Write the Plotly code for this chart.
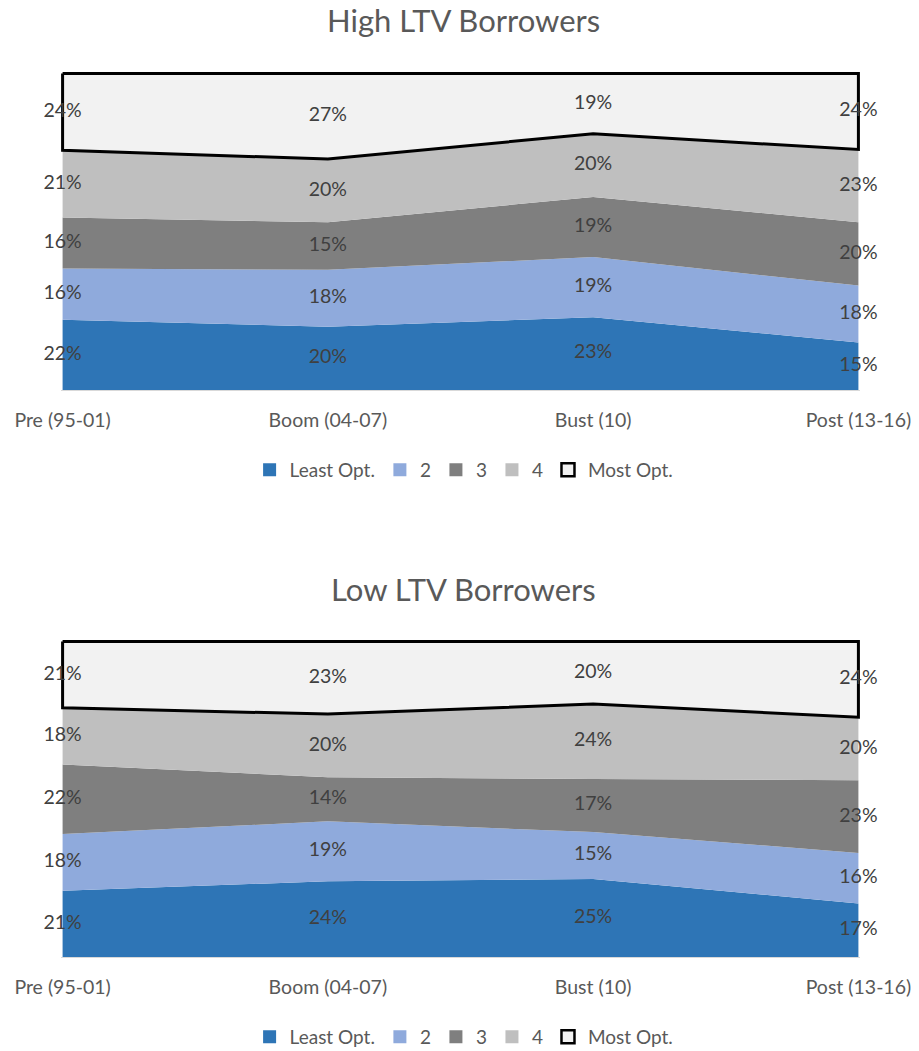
import numpy as np
import plotly.graph_objects as go

categories = ["Pre (95-01)", "Boom (04-07)", "Bust (10)", "Post (13-16)"]
series_names = ["Least Opt.", "2", "3", "4", "Most Opt."]

high_least = [22, 20, 23, 15]
high_2 = [16, 18, 19, 18]
high_3 = [16, 15, 19, 20]
high_4 = [21, 20, 20, 23]
high_most = [24, 27, 19, 24]

low_least = [21, 24, 25, 17]
low_2 = [18, 19, 15, 16]
low_3 = [22, 14, 17, 23]
low_4 = [18, 20, 24, 20]
low_most = [21, 23, 20, 24]

colors = ["#2e75b6", "#8faadc", "#7f7f7f", "#bfbfbf", "#f2f2f2"]
FONT = "Lato"
W, H = 919, 1051
FS = 19.5

fig = go.Figure()

panels = [
    ("High LTV Borrowers", [high_least, high_2, high_3, high_4, high_most], "x", "y", "legend"),
    ("Low LTV Borrowers", [low_least, low_2, low_3, low_4, low_most], "x2", "y2", "legend2"),
]

xs = list(range(len(categories)))

for title, data, xa, ya, lg in panels:
    arr = np.array(data, dtype=float)
    norm = arr / arr.sum(axis=0) * 100
    cum = np.cumsum(norm, axis=0)
    for i, name in enumerate(series_names):
        fig.add_trace(go.Scatter(
            x=xs, y=arr[i], mode="lines", stackgroup=xa, groupnorm="percent",
            line=dict(width=0, color=colors[i]), fillcolor=colors[i],
            showlegend=False, hoverinfo="skip", xaxis=xa, yaxis=ya))
    # outline of the top band
    top = [100.0] * len(xs)
    lower = list(cum[3])
    ox = xs + xs[::-1] + [xs[0]]
    oy = top + lower[::-1] + [top[0]]
    fig.add_trace(go.Scatter(x=ox, y=oy, mode="lines", line=dict(color="black", width=3),
                             showlegend=False, hoverinfo="skip", xaxis=xa, yaxis=ya))
    # data labels at centre of each band
    for i in range(len(series_names)):
        centers = cum[i] - norm[i] / 2
        fig.add_trace(go.Scatter(
            x=xs, y=centers, mode="text", text=[f"{v:.0f}%" for v in arr[i]],
            textfont=dict(family=FONT, size=FS, color="#404040"), cliponaxis=False,
            showlegend=False, hoverinfo="skip", xaxis=xa, yaxis=ya))
    # legend entries
    for i, name in enumerate(series_names):
        mline = dict(color="black", width=2.5) if i == 4 else dict(width=0)
        fig.add_trace(go.Scatter(
            x=[None], y=[None], mode="markers", name=name,
            marker=dict(symbol="square", size=13, color=colors[i], line=mline),
            legend=lg, xaxis=xa, yaxis=ya))

def py(px):
    return 1 - px / H

xdom = [61 / W, 860 / W]
axis_x = dict(range=[-0.006, 3.006], tickmode="array", tickvals=xs, ticktext=categories,
              showgrid=False, zeroline=False, showline=True, linecolor="#d9d9d9", linewidth=1,
              ticks="", automargin=False,
              ticklabelstandoff=13, tickfont=dict(family=FONT, size=FS, color="#595959"),
              domain=xdom, fixedrange=True)
axis_y = dict(range=[0, 100.5], visible=False, showgrid=False, zeroline=False,
              automargin=False, fixedrange=True)

leg = dict(orientation="h", x=0.505, xanchor="center", yanchor="middle",
           font=dict(family=FONT, size=19, color="#595959"), itemwidth=30,
           traceorder="normal", bgcolor="rgba(0,0,0,0)", tracegroupgap=0)

fig.update_layout(
    width=W, height=H, margin=dict(l=0, r=0, t=0, b=0, autoexpand=False),
    paper_bgcolor="white", plot_bgcolor="white",
    font=dict(family=FONT, color="#595959"),
    xaxis=dict(axis_x, anchor="y"),
    yaxis=dict(axis_y, domain=[py(390), py(72)], anchor="x"),
    xaxis2=dict(axis_x, anchor="y2"),
    yaxis2=dict(axis_y, domain=[py(957), py(640)], anchor="x2"),
    legend=dict(leg, y=py(470)),
    legend2=dict(leg, y=py(1037)),
    annotations=[
        dict(text="High LTV Borrowers", x=0.504, y=py(20), xref="paper", yref="paper",
             showarrow=False, font=dict(family=FONT, size=31, color="#595959"), yanchor="middle"),
        dict(text="Low LTV Borrowers", x=0.504, y=py(589), xref="paper", yref="paper",
             showarrow=False, font=dict(family=FONT, size=31, color="#595959"), yanchor="middle"),
    ],
)

fig.write_html(
    "out.html",
    config={"displayModeBar": False, "staticPlot": True},
    post_script="document.body.style.margin='0px';document.body.style.overflow='hidden';",
)
